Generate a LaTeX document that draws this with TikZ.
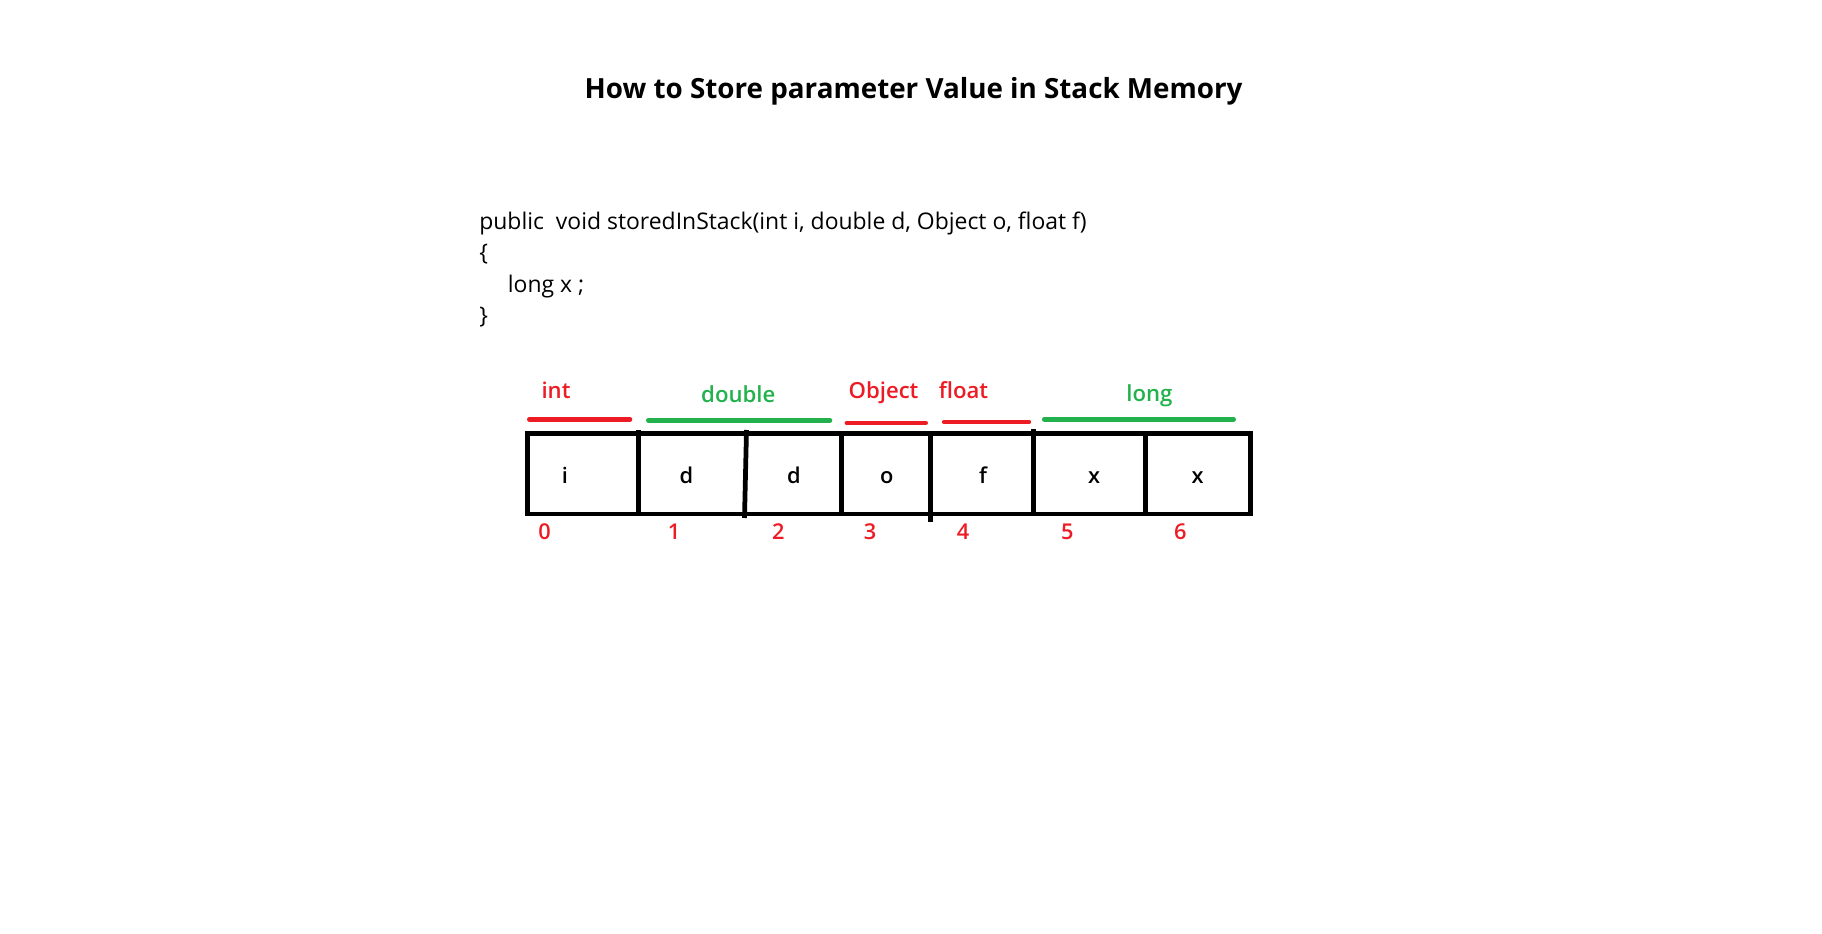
\documentclass[tikz,border=0pt]{standalone}
\usepackage{fontspec}
\setmainfont{Open Sans}
\IfFontExistsTF{Open Sans Semibold}{\newfontfamily\semifont{Open Sans Semibold}}{%
  \IfFontExistsTF{Open Sans SemiBold}{\newfontfamily\semifont{Open Sans SemiBold}}{\newcommand\semifont{\bfseries}}}
\definecolor{paintred}{HTML}{ED1C24}
\definecolor{paintgreen}{HTML}{22B14C}

\begin{document}
\begin{tikzpicture}[x=0.01cm,y=-0.01cm,
    heading/.style={inner sep=0,anchor=base,font=\fontsize{7.9}{10}\selectfont\bfseries},
    codeline/.style={inner sep=0,anchor=base west,font=\fontsize{6.52}{9}\selectfont},
    typename/.style={inner sep=0,anchor=base,font=\fontsize{6.3}{8}\selectfont\semifont},
    typebar/.style={line width=1.3pt,line cap=round},
    frame/.style={line width=1.35pt},
    slotval/.style={inner sep=0,anchor=base,font=\fontsize{6.2}{8}\selectfont\semifont},
    slotidx/.style={inner sep=0,anchor=base,text=paintred,font=\fontsize{6.2}{8}\selectfont\semifont}]
        \useasboundingbox (0,0) rectangle (1822,934);

        % Titel
        \node[heading] (title) at (913.6,99) {How to Store parameter Value in Stack Memory};

        % Methode
        \node[codeline] (sig) at (478.6,229.5) {public\ \ void storedInStack(int i, double d, Object o, float f)};
        \node[codeline] (open) at (478.6,261) {\{};
        \node[codeline] (body) at (507.2,293) {long x ;};
        \node[codeline] (close) at (478.6,324) {\}};

        % Typen
        \node[typename,text=paintred] (tint) at (556,399) {int};
        \node[typename,text=paintgreen] (tdouble) at (738.3,402.5) {double};
        \node[typename,text=paintred] (tobject) at (883.5,399) {Object};
        \node[typename,text=paintred] (tfloat) at (963.5,399) {float};
        \node[typename,text=paintgreen] (tlong) at (1149.4,402) {long};
        \draw[typebar,paintred] (529.3,419.3) -- (630,419.3);
        \draw[typebar,paintgreen] (648.3,420.3) -- (830,420.3);
        \draw[typebar,paintred] (846.8,423) -- (925.7,423);
        \draw[typebar,paintred] (944.1,422) -- (1028.9,422);
        \draw[typebar,paintgreen] (1044.2,419.3) -- (1233.7,419.3);

        % Stack
        \draw[frame] (527.3,433.3) rectangle (1250.5,514);
        \draw[frame] (638.3,430) -- (638.3,514);
        \draw[frame] (746.5,430) -- (744.5,518);
        \draw[frame] (841.4,433.3) -- (841.4,514);
        \draw[frame] (930.3,433.3) -- (930.3,522);
        \draw[frame] (1033.3,429) -- (1033.3,514);
        \draw[frame] (1145.3,433.3) -- (1145.3,514);

        % Werte
        \node[slotval] (vi) at (565,484) {i};
        \node[slotval] (vd1) at (686.5,484) {d};
        \node[slotval] (vd2) at (794,484) {d};
        \node[slotval] (vo) at (886.7,484) {o};
        \node[slotval] (vf) at (983,484) {f};
        \node[slotval] (vx1) at (1094,484) {x};
        \node[slotval] (vx2) at (1197.5,484) {x};

        % Indizes
        \node[slotidx] (n0) at (544.5,540) {0};
        \node[slotidx] (n1) at (674,540) {1};
        \node[slotidx] (n2) at (778.3,540) {2};
        \node[slotidx] (n3) at (870.2,540) {3};
        \node[slotidx] (n4) at (963.2,540) {4};
        \node[slotidx] (n5) at (1067.3,540) {5};
        \node[slotidx] (n6) at (1180.4,540) {6};
    \end{tikzpicture}
\end{document}
